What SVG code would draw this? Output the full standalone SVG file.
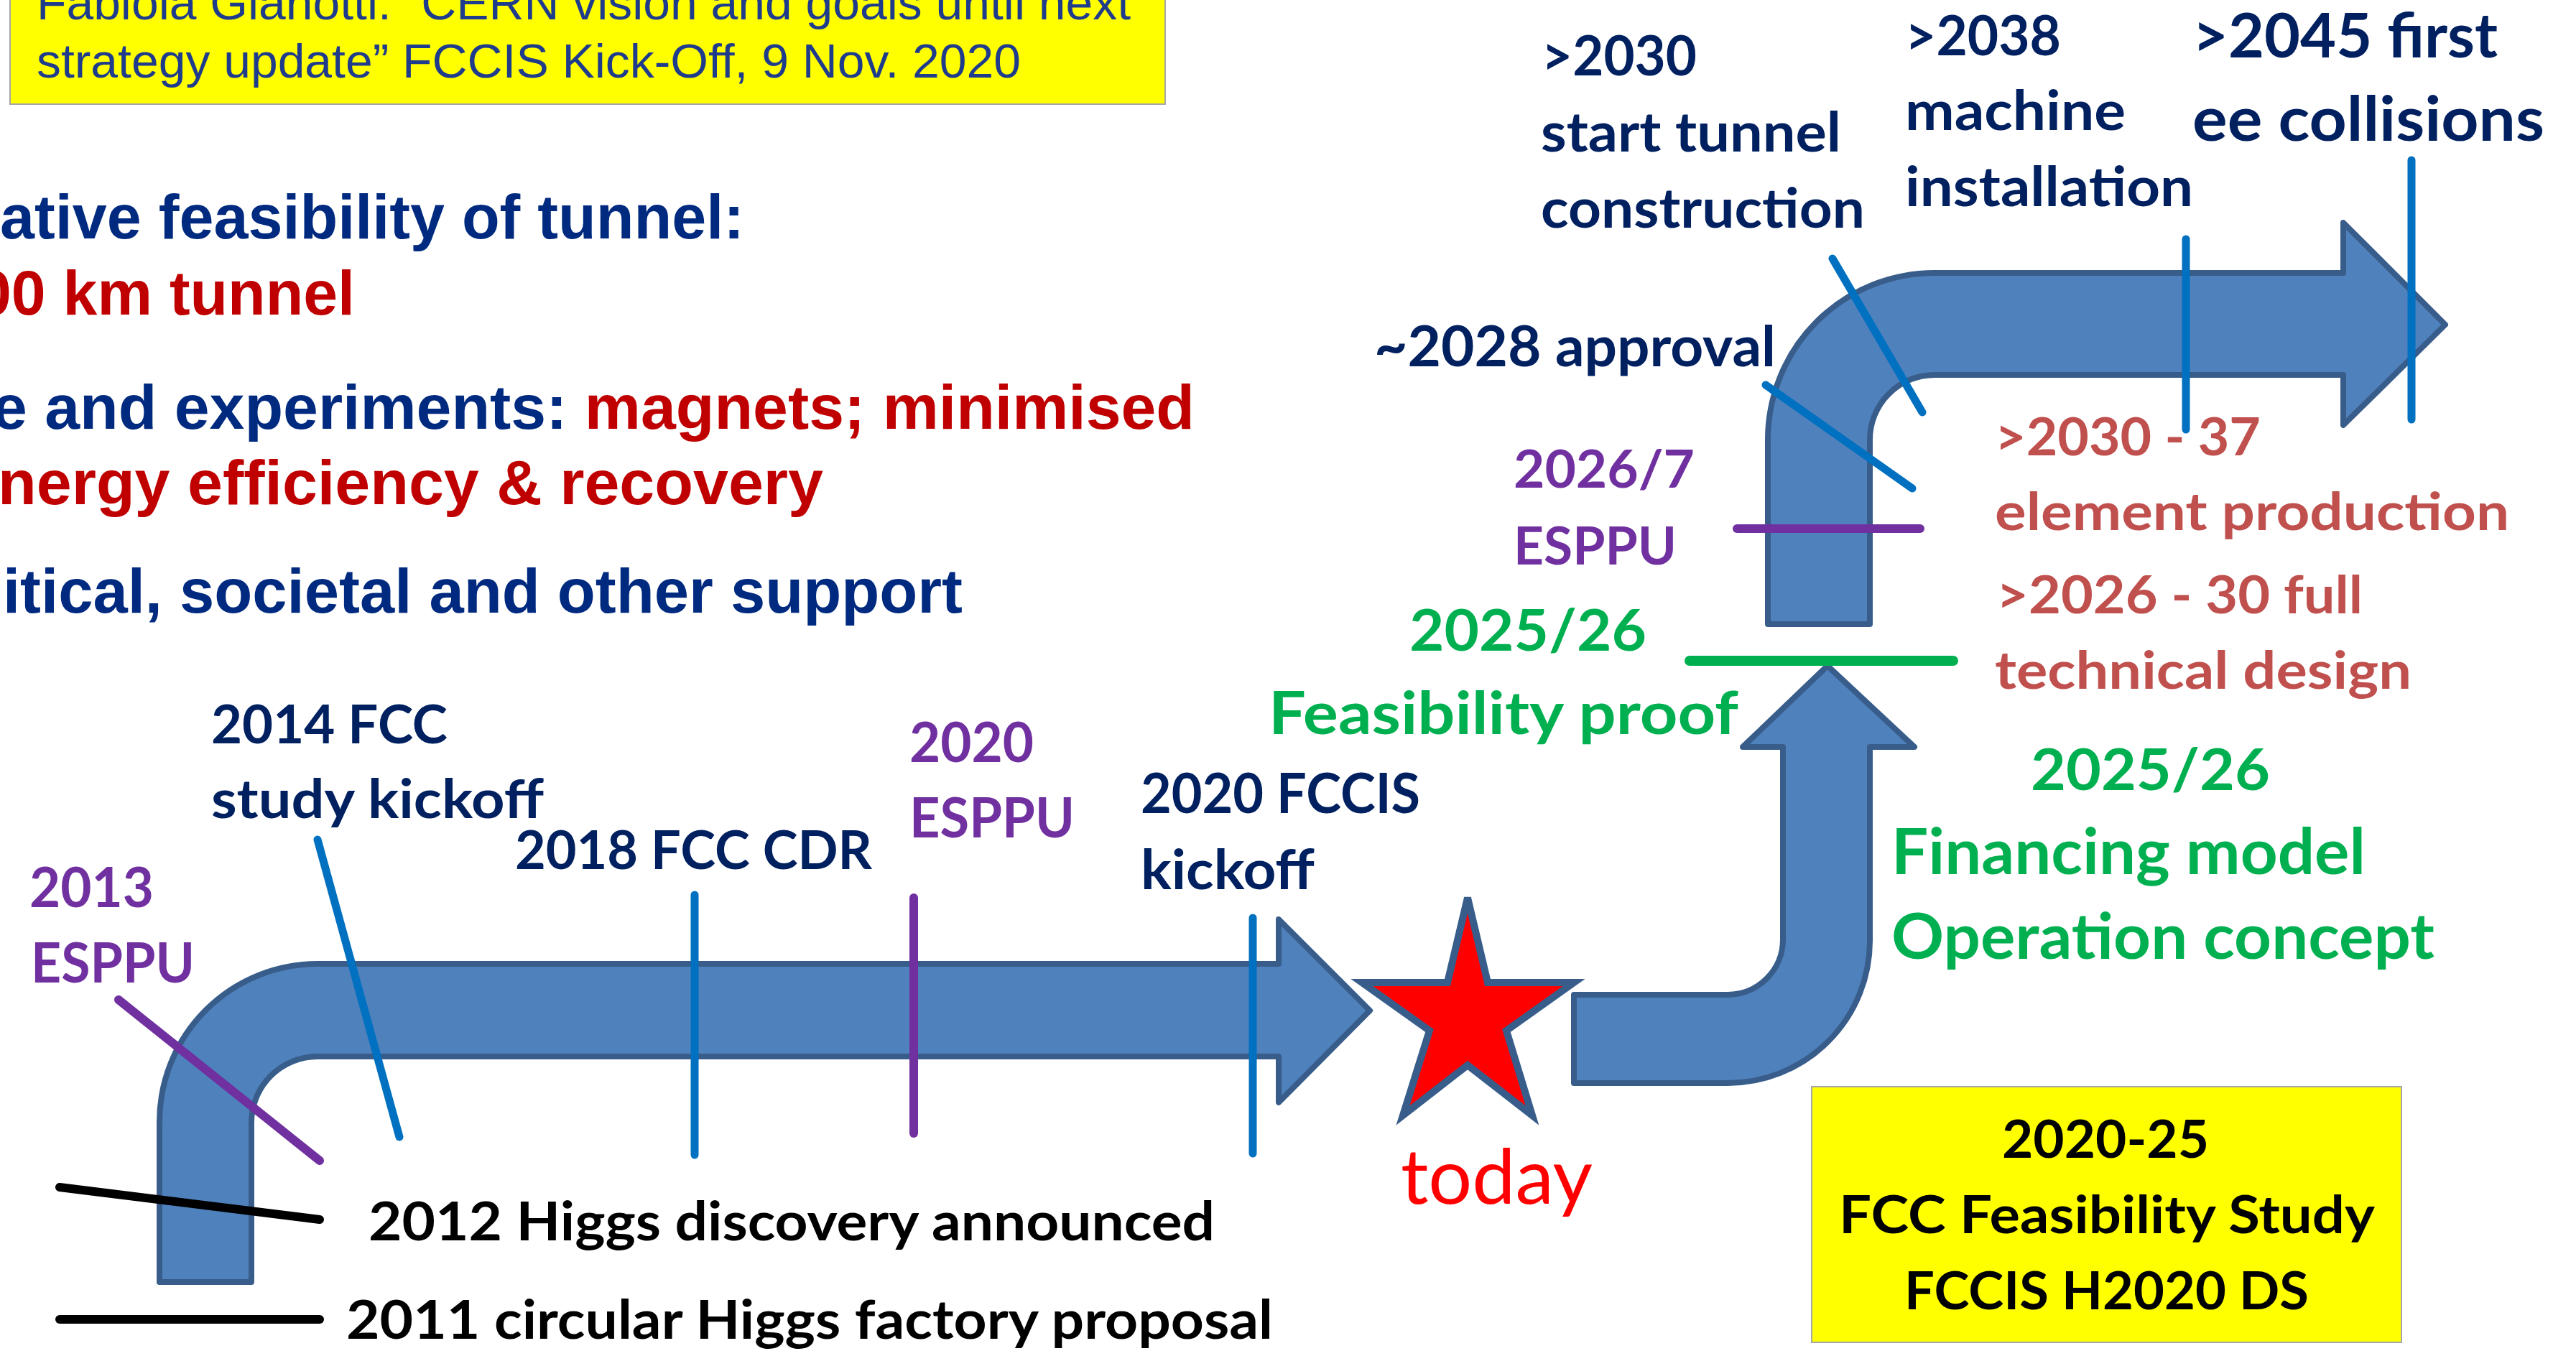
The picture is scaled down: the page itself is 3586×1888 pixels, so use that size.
<svg xmlns="http://www.w3.org/2000/svg" width="3586" height="1888" viewBox="0 0 3586 1888">
<style>
.arr{fill:#4F81BD;stroke:#385D8A;stroke-width:8;stroke-linejoin:round}
.cal{font-family:Lato,"Open Sans",sans-serif;font-weight:700}
.ari{font-family:"Liberation Sans",Arial,sans-serif;font-weight:700;font-size:88px}
.navy{fill:#002060}
.anavy{fill:#002A80}
.pur{fill:#7030A0}
.grn{fill:#00B050}
.rb{fill:#C0504D}
.red{fill:#C00000}
.blk{fill:#000}
.tk{fill:none;stroke-linecap:round}
.tb{stroke:#0070C0;stroke-width:11}
.tp{stroke:#7030A0;stroke-width:12}
.tg{stroke:#00B050;stroke-width:14}
.tk0{stroke:#000;stroke-width:12}
.ybox{fill:#FFFF00;stroke:#A6A6A6;stroke-width:2}
</style>
<rect width="3586" height="1888" fill="#fff"/>

<g id="quote-box">
<rect class="ybox" x="14" y="-5" width="1608" height="150"/>
<text x="51" y="27" font-family="'Liberation Sans',Arial,sans-serif" font-size="66" fill="#1F3C8C" textLength="1523" lengthAdjust="spacingAndGlyphs">Fabiola Gianotti:  “CERN vision and goals until next</text>
<text x="51" y="108" font-family="'Liberation Sans',Arial,sans-serif" font-size="66" fill="#1F3C8C" textLength="1370" lengthAdjust="spacingAndGlyphs">strategy update” FCCIS Kick-Off, 9 Nov. 2020</text>
</g>

<g id="left-text">
<text class="ari anavy" x="0" y="332" textLength="1036" lengthAdjust="spacingAndGlyphs">ative feasibility of tunnel:</text>
<text class="ari red" x="-32" y="438" textLength="526" lengthAdjust="spacingAndGlyphs">00 km tunnel</text>
<text class="ari" x="-11" y="597" textLength="1674" lengthAdjust="spacingAndGlyphs"><tspan class="anavy">e and experiments: </tspan><tspan class="red">magnets; minimised</tspan></text>
<text class="ari red" x="-3" y="702" textLength="1149" lengthAdjust="spacingAndGlyphs">nergy efficiency &amp; recovery</text>
<text class="ari anavy" x="4" y="853" textLength="1336" lengthAdjust="spacingAndGlyphs">itical, societal and other support</text>
</g>

<g id="arrows">
<path id="arrow-lower" class="arr" d="M222 1785 L222 1562 A220 220 0 0 1 442 1342 L1780 1342 L1780 1280 L1907 1407 L1780 1535 L1780 1471 L442 1471 A92 92 0 0 0 350 1563 L350 1785 Z"/>
<path id="arrow-middle" class="arr" d="M2191 1385 L2405 1385 A77 77 0 0 0 2482 1308 L2482 1040 L2426 1040 L2544 927 L2665 1040 L2603 1040 L2603 1310 A198 198 0 0 1 2405 1508 L2191 1508 Z"/>
<path id="arrow-upper" class="arr" d="M2461 869 L2461 612 A232 232 0 0 1 2693 380 L3262 380 L3262 310 L3404 452 L3262 592 L3262 522 L2693 522 A90 90 0 0 0 2603 612 L2603 869 Z"/>
</g>

<g id="today-star">
<polygon points="2043,1250 2071,1368 2191,1368 2097,1435 2133,1553 2043,1483 1953,1553 1990,1435 1896,1368 2015,1368" fill="#FF0000" stroke="#385D8A" stroke-width="10" stroke-linejoin="miter"/>
<text x="1950" y="1676" font-family="Lato,'Open Sans',sans-serif" font-size="106" fill="#FF0000" textLength="267" lengthAdjust="spacingAndGlyphs">today</text>
</g>

<g id="connectors">
<line class="tk tk0" x1="83" y1="1837" x2="445" y2="1837"/>
<line class="tk tk0" x1="83" y1="1653" x2="445" y2="1698"/>
<line class="tk tp" x1="165" y1="1392" x2="445" y2="1616"/>
<line class="tk tb" x1="442" y1="1169" x2="556" y2="1583"/>
<line class="tk tb" x1="967" y1="1246" x2="967" y2="1608"/>
<line class="tk tp" x1="1272" y1="1250" x2="1272" y2="1578"/>
<line class="tk tb" x1="1744" y1="1278" x2="1744" y2="1606"/>
<line class="tk tg" x1="2352" y1="920" x2="2719" y2="920"/>
<line class="tk tp" x1="2418" y1="736" x2="2673" y2="736"/>
<line class="tk tb" x1="2458" y1="536" x2="2662" y2="680"/>
<line class="tk tb" x1="2551" y1="360" x2="2676" y2="574"/>
<line class="tk tb" x1="3043" y1="333" x2="3043" y2="598"/>
<line class="tk tb" x1="3357" y1="223" x2="3357" y2="584"/>
</g>

<g id="n2011"><text class="cal blk" x="482" y="1864" font-size="75" textLength="1290" lengthAdjust="spacingAndGlyphs">2011 circular Higgs factory proposal</text></g>
<g id="n2012"><text class="cal blk" x="513" y="1727" font-size="75" textLength="1178" lengthAdjust="spacingAndGlyphs">2012 Higgs discovery announced</text></g>
<g id="n2013">
<text class="cal pur" x="41" y="1263" font-size="77" textLength="173" lengthAdjust="spacingAndGlyphs">2013</text>
<text class="cal pur" x="43" y="1368" font-size="77" textLength="228" lengthAdjust="spacingAndGlyphs">ESPPU</text>
</g>
<g id="n2014">
<text class="cal navy" x="294" y="1035" font-size="75" textLength="329" lengthAdjust="spacingAndGlyphs">2014 FCC</text>
<text class="cal navy" x="294" y="1139" font-size="75" textLength="463" lengthAdjust="spacingAndGlyphs">study kickoff</text>
</g>
<g id="n2018"><text class="cal navy" x="717" y="1210" font-size="75" textLength="497" lengthAdjust="spacingAndGlyphs">2018 FCC CDR</text></g>
<g id="n2020esppu">
<text class="cal pur" x="1266" y="1061" font-size="77" textLength="173" lengthAdjust="spacingAndGlyphs">2020</text>
<text class="cal pur" x="1266" y="1166" font-size="77" textLength="230" lengthAdjust="spacingAndGlyphs">ESPPU</text>
</g>
<g id="n2020fccis">
<text class="cal navy" x="1588" y="1132" font-size="77" textLength="389" lengthAdjust="spacingAndGlyphs">2020 FCCIS</text>
<text class="cal navy" x="1588" y="1238" font-size="77" textLength="242" lengthAdjust="spacingAndGlyphs">kickoff</text>
</g>
<g id="feasibility-proof">
<text class="cal grn" x="1962" y="906" font-size="81" textLength="330" lengthAdjust="spacingAndGlyphs">2025/26</text>
<text class="cal grn" x="1766" y="1022" font-size="82" textLength="654" lengthAdjust="spacingAndGlyphs">Feasibility proof</text>
</g>
<g id="financing">
<text class="cal grn" x="2827" y="1100" font-size="81" textLength="333" lengthAdjust="spacingAndGlyphs">2025/26</text>
<text class="cal grn" x="2633" y="1217" font-size="88" textLength="660" lengthAdjust="spacingAndGlyphs">Financing model</text>
<text class="cal grn" x="2633" y="1335" font-size="88" textLength="756" lengthAdjust="spacingAndGlyphs">Operation concept</text>
</g>
<g id="production">
<text class="cal rb" x="2777" y="634" font-size="72" textLength="370" lengthAdjust="spacingAndGlyphs">&gt;2030 - 37</text>
<text class="cal rb" x="2777" y="738" font-size="72" textLength="716" lengthAdjust="spacingAndGlyphs">element production</text>
<text class="cal rb" x="2779" y="854" font-size="72" textLength="510" lengthAdjust="spacingAndGlyphs">&gt;2026 - 30 full</text>
<text class="cal rb" x="2777" y="959" font-size="72" textLength="580" lengthAdjust="spacingAndGlyphs">technical design</text>
</g>
<g id="n2026esppu">
<text class="cal pur" x="2107" y="679" font-size="72" textLength="252" lengthAdjust="spacingAndGlyphs">2026/7</text>
<text class="cal pur" x="2107" y="786" font-size="72" textLength="227" lengthAdjust="spacingAndGlyphs">ESPPU</text>
</g>
<g id="approval"><text class="cal navy" x="1913" y="510" font-size="78" textLength="559" lengthAdjust="spacingAndGlyphs">~2028 approval</text></g>
<g id="tunnel">
<text class="cal navy" x="2146" y="105" font-size="77" textLength="216" lengthAdjust="spacingAndGlyphs">&gt;2030</text>
<text class="cal navy" x="2145" y="211" font-size="77" textLength="418" lengthAdjust="spacingAndGlyphs">start tunnel</text>
<text class="cal navy" x="2145" y="317" font-size="77" textLength="451" lengthAdjust="spacingAndGlyphs">construction</text>
</g>
<g id="installation">
<text class="cal navy" x="2652" y="77" font-size="77" textLength="217" lengthAdjust="spacingAndGlyphs">&gt;2038</text>
<text class="cal navy" x="2652" y="181" font-size="77" textLength="307" lengthAdjust="spacingAndGlyphs">machine</text>
<text class="cal navy" x="2652" y="287" font-size="77" textLength="401" lengthAdjust="spacingAndGlyphs">installation</text>
</g>
<g id="collisions">
<text class="cal navy" x="3052" y="80" font-size="86" textLength="425" lengthAdjust="spacingAndGlyphs">&gt;2045 first</text>
<text class="cal navy" x="3052" y="196" font-size="86" textLength="490" lengthAdjust="spacingAndGlyphs">ee collisions</text>
</g>
<g id="study-box">
<rect class="ybox" x="2522" y="1513" width="821" height="356"/>
<text class="cal blk" x="2787" y="1612" font-size="73" textLength="288" lengthAdjust="spacingAndGlyphs">2020-25</text>
<text class="cal blk" x="2560" y="1717" font-size="73" textLength="746" lengthAdjust="spacingAndGlyphs">FCC Feasibility Study</text>
<text class="cal blk" x="2651" y="1823" font-size="73" textLength="563" lengthAdjust="spacingAndGlyphs">FCCIS H2020 DS</text>
</g>
</svg>
